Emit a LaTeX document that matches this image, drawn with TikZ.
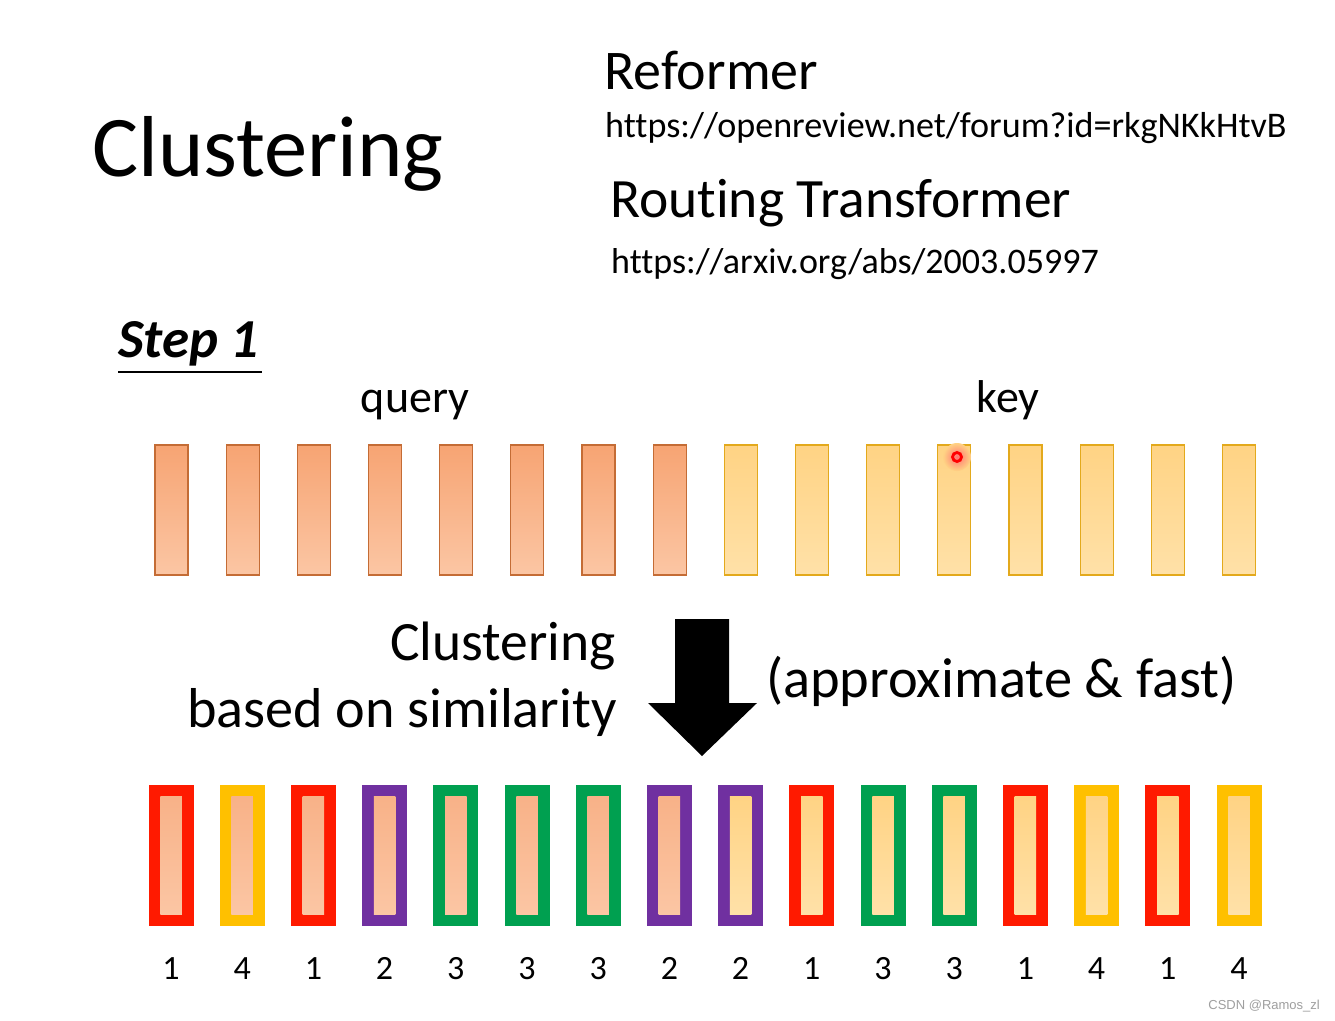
\documentclass[tikz,border=0pt]{standalone}
\usepackage{fontspec}
\setmainfont[Ligatures=NoCommon]{Carlito}
\newfontfamily\markfont{Liberation Sans}
\usetikzlibrary{positioning}

\definecolor{qtop}{HTML}{F7A473}
\definecolor{qbot}{HTML}{FBC6A4}
\definecolor{qedge}{HTML}{C46C35}
\definecolor{ktop}{HTML}{FFD384}
\definecolor{kbot}{HTML}{FFE1A8}
\definecolor{kedge}{HTML}{E3A91C}
\definecolor{cone}{HTML}{FF1A00}
\definecolor{ctwo}{HTML}{7030A0}
\definecolor{cthree}{HTML}{00A050}
\definecolor{cfour}{HTML}{FFC000}

\newcommand{\fs}[1]{\fontsize{#1}{#1}\selectfont}

\tikzset{
  txt/.style={inner sep=0pt, anchor=base west},
  qbar/.style={minimum width=33pt, minimum height=130pt, inner sep=0pt,
    draw=qedge, line width=1.2pt, top color=qtop, bottom color=qbot},
  kbar/.style={minimum width=33pt, minimum height=130pt, inner sep=0pt,
    draw=kedge, line width=1.2pt, top color=ktop, bottom color=kbot},
  clus/.style={minimum width=33.5pt, minimum height=129.5pt, inner sep=0pt,
    draw=#1, fill=#1, line width=11.5pt},
  qin/.style={minimum width=21.5pt, minimum height=118pt, inner sep=0pt,
    top color=qtop!85!white, bottom color=qbot},
  kin/.style={minimum width=21.5pt, minimum height=118pt, inner sep=0pt,
    top color=ktop, bottom color=kbot},
  num/.style={font=\fs{34}, inner sep=0pt, anchor=base}
}

\begin{document}
\begin{tikzpicture}[x=1pt, y=-1pt]
  \useasboundingbox[fill=white] (0,0) rectangle (1335,1020);

  % titles
  \node[txt, font=\fs{86.5}] (title) at (92,176) {Clustering};
  \node[txt, font=\fs{56}] (reformer) at (604,89) {Reformer};
  \node[txt, font=\fs{36.1}] (url1) at (605,137) {https://openreview.net/forum?id=rkgNKkHtvB};
  \node[txt, font=\fs{55.5}] (routing) at (610,217) {Routing Transformer};
  \node[txt, font=\fs{36}] (url2) at (611,273) {https://arxiv.org/abs/2003.05997};

  \node[txt, font=\fs{55}\bfseries\itshape] (step) at (118,357) {Step 1};
  \draw[line width=2pt] (118,372) -- (262,372);

  \node[inner sep=0pt, anchor=base, font=\fs{46}] (query) at (415,412) {query};
  \node[inner sep=0pt, anchor=base, font=\fs{46}] (key) at (1008,412) {key};

  % query and key vectors
  \foreach \i in {1,...,8}
    \node[qbar] (q\i) at ({171.5+71.17*(\i-1)},510) {};
  \foreach \i in {9,...,16}
    \node[kbar] (k\i) at ({171.5+71.17*(\i-1)},510) {};

  \shade[inner color=red!55, outer color=ktop] (957,457) circle (14pt);
  \draw[red, line width=2.8pt] (957,457) circle (4.5pt);

  % clustering step
  \node[inner sep=0pt, anchor=base east, font=\fs{55.5}] (clus) at (616,660) {Clustering};
  \node[inner sep=0pt, anchor=base east, font=\fs{56.2}] (sim) at (617,727) {based on similarity};
  \fill (675,619) -- (729,619) -- (729,703) -- (757,703) -- (702,756)
    -- (648,703) -- (675,703) -- cycle;
  \node[txt, font=\fs{56.4}] (approx) at (766,697) {(approximate \& fast)};

  % clustered vectors
  \foreach \i/\c/\s/\n in {1/cone/qin/1, 2/cfour/qin/4, 3/cone/qin/1, 4/ctwo/qin/2,
      5/cthree/qin/3, 6/cthree/qin/3, 7/cthree/qin/3, 8/ctwo/qin/2,
      9/ctwo/kin/2, 10/cone/kin/1, 11/cthree/kin/3, 12/cthree/kin/3,
      13/cone/kin/1, 14/cfour/kin/4, 15/cone/kin/1, 16/cfour/kin/4} {
    \node[clus=\c] (c\i) at ({171+71.2*(\i-1)},855.5) {};
    \node[\s] (in\i) at (c\i.center) {};
    \node[num] (n\i) at ({171+71.2*(\i-1)},979) {\n};
  }

  \node[inner sep=0pt, anchor=base east, text=gray!75, font=\markfont\fs{13}] (mark) at (1320,1009) {CSDN @Ramos\_zl};
\end{tikzpicture}
\end{document}
